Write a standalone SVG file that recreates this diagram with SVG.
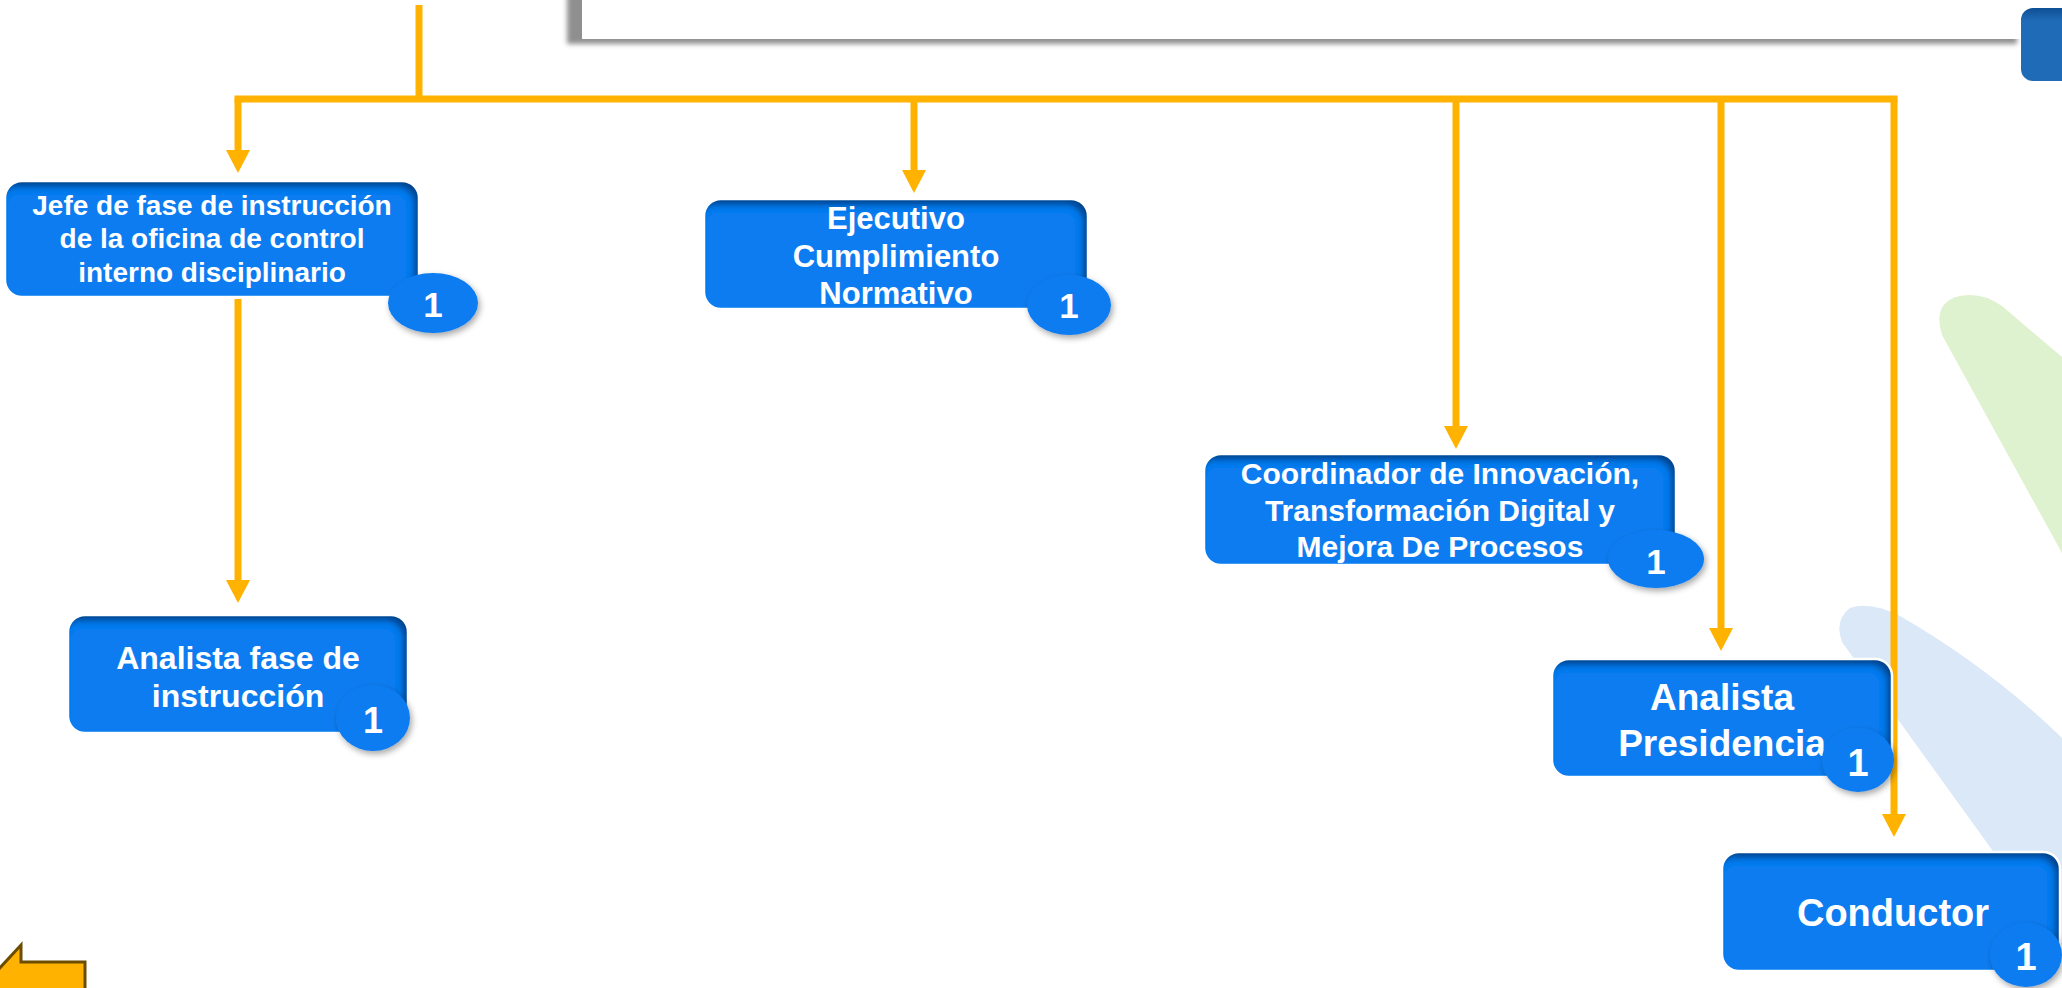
<svg xmlns="http://www.w3.org/2000/svg" width="2062" height="988" viewBox="0 0 2062 988">
<defs>
<style>
.conn{fill:none;stroke:#FFB300;stroke-width:7}
.box{fill:#0E7CF0}
.edge{fill:none;stroke:#FFFFFF;stroke-width:2.5}
.badge{fill:#0E7CF0}
.t{font-family:"Liberation Sans",Arial,sans-serif;font-weight:bold;fill:#FFFFFF;text-anchor:middle}
.n{font-family:"Liberation Sans",Arial,sans-serif;font-weight:bold;fill:#FFFFFF;text-anchor:middle}
</style>
<marker id="ah" markerUnits="userSpaceOnUse" markerWidth="23" markerHeight="24" viewBox="0 0 23 24" refX="2" refY="12" orient="auto">
<path d="M0 0 L23 12 L0 24 Z" fill="#FFB300"/>
</marker>
<filter id="ins" x="-5%" y="-5%" width="110%" height="110%">
<feGaussianBlur in="SourceAlpha" stdDeviation="3" result="b"/>
<feOffset in="b" dx="-5" dy="6" result="o"/>
<feComposite in="SourceAlpha" in2="o" operator="out" result="inv"/>
<feFlood flood-color="#00336E" flood-opacity="0.85"/>
<feComposite in2="inv" operator="in" result="sh"/>
<feMerge><feMergeNode in="SourceGraphic"/><feMergeNode in="sh"/></feMerge>
</filter>
<filter id="bsh" x="-30%" y="-30%" width="170%" height="170%">
<feDropShadow dx="2" dy="3" stdDeviation="3" flood-color="#000000" flood-opacity="0.35"/>
</filter>
<filter id="topsh" x="-5%" y="-50%" width="110%" height="200%">
<feDropShadow dx="-15" dy="5" stdDeviation="2.5" flood-color="#7a7a7a" flood-opacity="0.85"/>
</filter>
<linearGradient id="tb" x1="0" y1="0" x2="0" y2="1">
<stop offset="0" stop-color="#0E4F95"/>
<stop offset="0.18" stop-color="#1F6BB8"/>
<stop offset="1" stop-color="#1F6BB8"/>
</linearGradient>
</defs>

<rect x="0" y="0" width="2062" height="988" fill="#FFFFFF"/>

<g id="background">
<path d="M1942 335 Q1932 302 1960 296 Q1982 292 2002 306 L2062 357 L2062 553 Z" fill="#DFF2CF"/>
<path d="M1842 642 L1990 847 L2062 946 L2062 738 Q1990 668 1900 616 Q1870 601 1850 608 Q1834 620 1842 642 Z" fill="#DAE8F8"/>
<rect x="582" y="-30" width="1450" height="69" fill="#FFFFFF" filter="url(#topsh)"/>
<rect x="2021" y="8" width="60" height="73" rx="12" fill="url(#tb)"/>
<path d="M85 962 L21 962 L21 945 L-25 995 L21 1045 L21 1028 L85 1028 Z" fill="#FFB300" stroke="#6B4C00" stroke-width="3"/>
</g>

<g id="connectors">
<path class="conn" d="M419 5 V99"/>
<path class="conn" d="M238 99 H1894" stroke-linecap="square"/>
<path class="conn" d="M238 99 V152" marker-end="url(#ah)"/>
<path class="conn" d="M914 99 V172" marker-end="url(#ah)"/>
<path class="conn" d="M1456 99 V428" marker-end="url(#ah)"/>
<path class="conn" d="M1721 99 V630" marker-end="url(#ah)"/>
<path class="conn" d="M1894 99 V816" marker-end="url(#ah)"/>
<path class="conn" d="M238 299 V582" marker-end="url(#ah)"/>
</g>

<g id="node-jefe">
<rect class="box" x="5" y="181" width="414" height="116" rx="17" filter="url(#ins)"/>
<rect class="edge" x="5" y="181" width="414" height="116" rx="17"/>
<text class="t" font-size="28" x="212"><tspan x="212" y="215">Jefe de fase de instrucción</tspan><tspan x="212" y="248">de la oficina de control</tspan><tspan x="212" y="282">interno disciplinario</tspan></text>
<ellipse class="badge" cx="433" cy="303" rx="45" ry="30" filter="url(#bsh)"/>
<text class="n" font-size="35" x="433" y="317">1</text>
</g>

<g id="node-ejecutivo">
<rect class="box" x="704" y="199" width="384" height="110" rx="17" filter="url(#ins)"/>
<rect class="edge" x="704" y="199" width="384" height="110" rx="17"/>
<text class="t" font-size="31"><tspan x="896" y="229">Ejecutivo</tspan><tspan x="896" y="267">Cumplimiento</tspan><tspan x="896" y="304">Normativo</tspan></text>
<ellipse class="badge" cx="1069" cy="305" rx="42" ry="30" filter="url(#bsh)"/>
<text class="n" font-size="35" x="1069" y="318">1</text>
</g>

<g id="node-coordinador">
<rect class="box" x="1204" y="454" width="472" height="111" rx="17" filter="url(#ins)"/>
<rect class="edge" x="1204" y="454" width="472" height="111" rx="17"/>
<text class="t" font-size="30"><tspan x="1440" y="484">Coordinador de Innovación,</tspan><tspan x="1440" y="521">Transformación Digital y</tspan><tspan x="1440" y="557">Mejora De Procesos</tspan></text>
<ellipse class="badge" cx="1656" cy="559" rx="48" ry="29" filter="url(#bsh)"/>
<text class="n" font-size="35" x="1656" y="574">1</text>
</g>

<g id="node-analista-fase">
<rect class="box" x="68" y="615" width="340" height="118" rx="17" filter="url(#ins)"/>
<rect class="edge" x="68" y="615" width="340" height="118" rx="17"/>
<text class="t" font-size="32"><tspan x="238" y="669">Analista fase de</tspan><tspan x="238" y="707">instrucción</tspan></text>
<ellipse class="badge" cx="373" cy="718" rx="37" ry="33" filter="url(#bsh)"/>
<text class="n" font-size="36" x="373" y="733">1</text>
</g>

<g id="node-analista-presidencia">
<rect class="box" x="1552" y="659" width="340" height="118" rx="17" filter="url(#ins)"/>
<rect class="edge" x="1552" y="659" width="340" height="118" rx="17"/>
<text class="t" font-size="37"><tspan x="1722" y="710">Analista</tspan><tspan x="1722" y="756">Presidencia</tspan></text>
<ellipse class="badge" cx="1858" cy="760" rx="36" ry="32" filter="url(#bsh)"/>
<text class="n" font-size="38" x="1858" y="776">1</text>
</g>

<g id="node-conductor">
<rect class="box" x="1722" y="852" width="338" height="119" rx="17" filter="url(#ins)"/>
<rect class="edge" x="1722" y="852" width="338" height="119" rx="17"/>
<text class="t" font-size="38" x="1893" y="926">Conductor</text>
<ellipse class="badge" cx="2026" cy="955" rx="36" ry="32" filter="url(#bsh)"/>
<text class="n" font-size="38" x="2026" y="970">1</text>
</g>
</svg>
